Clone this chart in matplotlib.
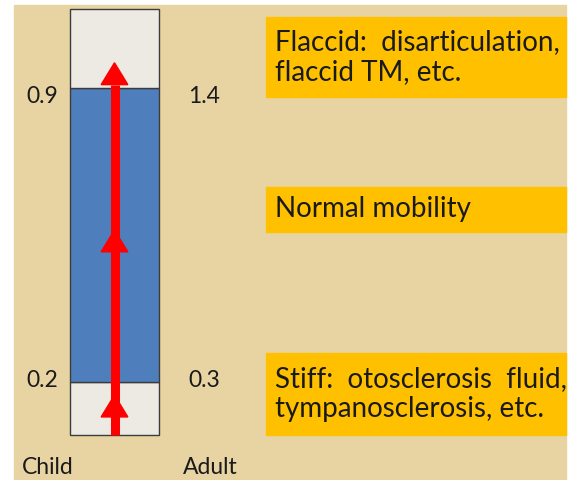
import matplotlib.pyplot as plt
from matplotlib.patches import Rectangle, Polygon

plt.rcParams['font.family'] = ['Lato', 'DejaVu Sans']

# ---- data ----
child_limits = [0.2, 0.9]          # normal range, child
adult_limits = [0.3, 1.4]          # normal range, adult
scale_range = [0.074, 1.088]       # bar bottom / top in child units
zone_names = ['Stiff', 'Normal', 'Flaccid']
zone_colors = ['#ECEAE3', '#4F7EBD', '#ECEAE3']
arrow_tips = [0.169, 0.562, 0.96]  # arrowhead tips, child units
notes = ['Stiff:  otosclerosis  fluid,\ntympanosclerosis, etc.',
         'Normal mobility',
         'Flaccid:  disarticulation,\nflaccid TM, etc.']

W, H = 570, 480
fig = plt.figure(figsize=(W / 100, H / 100), dpi=100)
fig.patch.set_facecolor('white')


def fx(px):
    return px / W


def fy(py):
    return 1 - py / H


# parchment background
fig.patches.append(Rectangle((fx(14), 0), fx(566 - 14), 1 - 5 / H,
                             transform=fig.transFigure, color='#E8D4A3', zorder=-2))

# ---- scale bar ----
ax = fig.add_axes([fx(70), fy(435), fx(89), 426 / H])
ax.set_zorder(3)
ax.set_xlim(-0.5, 0.5)
ax.set_ylim(scale_range)
ax.axis('off')

bottoms = [scale_range[0], child_limits[0], child_limits[1]]
tops = [child_limits[0], child_limits[1], scale_range[1]]
heights = [t - b for t, b in zip(tops, bottoms)]
ax.bar([0] * 3, heights, bottom=bottoms, width=1, color=zone_colors,
       edgecolor='#3C3C3C', linewidth=1, clip_on=False)

# red arrow with three heads
head_w, head_l = 0.15, 0.052
ax.plot([0, 0], [scale_range[0], arrow_tips[-1] - head_l], color='#FF0000',
        lw=6.5, solid_capstyle='butt', clip_on=False, zorder=3)
for tip in arrow_tips:
    ax.add_patch(Polygon([(-head_w, tip - head_l), (head_w, tip - head_l), (0, tip)],
                         closed=True, color='#FF0000', zorder=4, clip_on=False))

# limit labels (offset in pixels, positive = down)
fs = 16.5
for c, a, dy in zip(child_limits, adult_limits, [-2, 9]):
    ax.annotate(f'{c}', xy=(-0.5, c), xytext=(-12, -dy), textcoords='offset pixels',
                ha='right', va='center', fontsize=fs, color='#1A1A1A')
    ax.annotate(f'{a}', xy=(0.5, c), xytext=(29, -dy), textcoords='offset pixels',
                ha='left', va='center', fontsize=fs, color='#1A1A1A')

fig.text(fx(22), fy(468), 'Child', ha='left', va='center', fontsize=fs, color='#1A1A1A')
fig.text(fx(183), fy(468), 'Adult', ha='left', va='center', fontsize=fs, color='#1A1A1A')

# ---- note boxes ----
boxes = [(353, 435), (187, 232), (17, 97)]   # top / bottom in pixels
for (top, bot), txt in zip(boxes, notes):
    fig.patches.append(Rectangle((fx(266), fy(bot)), fx(566 - 266), (bot - top) / H,
                                 transform=fig.transFigure, color='#FFC000', zorder=1))
    fig.text(fx(275), fy((top + bot) / 2), txt, ha='left', va='center',
             fontsize=20, color='#1A1A1A', linespacing=1.2, zorder=2)

fig.savefig('out.png', dpi=100)
